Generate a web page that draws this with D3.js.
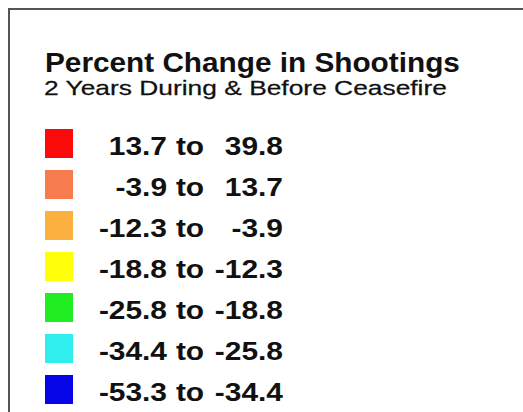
<!DOCTYPE html>
<html><head><meta charset="utf-8">
<script src="https://cdn.jsdelivr.net/npm/d3@7"></script>
<style>html,body{margin:0;padding:0;background:#fff;}svg{display:block;}</style>
</head><body>
<svg id="c" width="523" height="412"></svg>
<script>
const title = "Percent Change in Shootings";
const subtitle = "2 Years During & Before Ceasefire";
const classLow  = ["13.7", "-3.9", "-12.3", "-18.8", "-25.8", "-34.4", "-53.3"];
const classHigh = ["39.8", "13.7", "-3.9", "-12.3", "-18.8", "-25.8", "-34.4"];
const classColors = ["#fb0a0a", "#f67c50", "#fbb040", "#ffff0a", "#22ec22", "#30eeee", "#0505e8"];

const svg = d3.select("#c");
svg.append("rect").attr("width",523).attr("height",412).attr("fill","#fff");
svg.append("path").attr("d","M9,412 V9 H523").attr("fill","none").attr("stroke","#555").attr("stroke-width",2);

const font = "Arial, 'Liberation Sans', sans-serif";

// draw text at x0 baseline yb, stretched horizontally to end at x1
function fitText(str, x0, x1, yb, size, weight) {
  const g = svg.append("g");
  const t = g.append("text").attr("x",0).attr("y",0).text(str)
    .attr("font-family",font).attr("font-weight",weight).attr("font-size",size).attr("fill","#111");
  const w = t.node().getComputedTextLength();
  g.attr("transform",`translate(${x0},${yb}) scale(${(x1-x0)/w},1)`);
  return t;
}
fitText(title, 45, 460, 71.5, 27.5, "bold");
fitText(subtitle, 44, 447, 95, 20.5, "normal").attr("stroke","#111").attr("stroke-width",0.25);

const idx = d3.range(classLow.length);
const y = d3.scaleLinear().domain([0, classLow.length]).range([129, 129 + 41*classLow.length]);
const sx = 1.15;

const rows = svg.selectAll("g.row").data(idx).join("g").attr("class","row")
  .attr("transform", i => `translate(0,${y(i)})`);
rows.append("rect").attr("x",45).attr("y",0).attr("width",28).attr("height",29)
  .attr("fill", i => classColors[i]);
const tg = rows.append("g").attr("transform",`scale(${sx},1)`);
const numStyle = sel => sel.attr("font-family",font).attr("font-weight","bold")
  .attr("font-size",26).attr("fill","#111");
tg.append("text").attr("x",167/sx).attr("y",26).attr("text-anchor","end")
  .text(i => classLow[i]).call(numStyle);
tg.append("text").attr("x",190/sx).attr("y",26).attr("text-anchor","middle")
  .text("to").call(numStyle);
tg.append("text").attr("x",283/sx).attr("y",26).attr("text-anchor","end")
  .text(i => classHigh[i]).call(numStyle);
</script>
</body></html>
